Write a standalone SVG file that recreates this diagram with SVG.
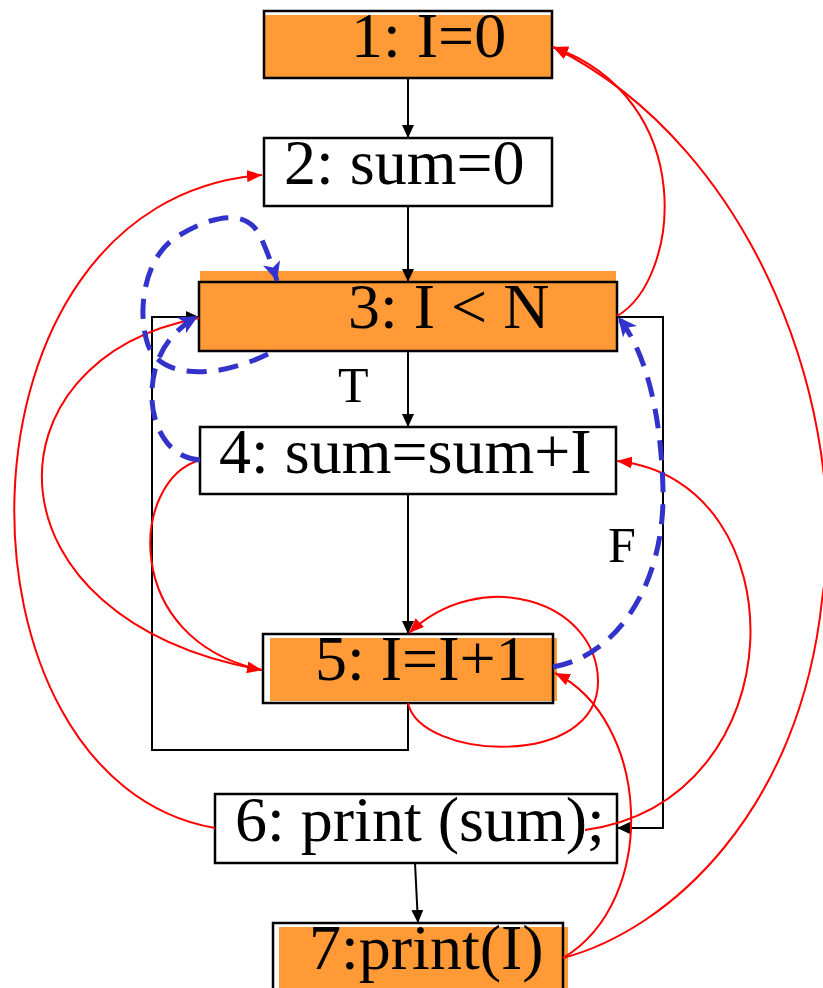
<svg xmlns="http://www.w3.org/2000/svg" width="823" height="988" viewBox="0 0 823 988">
<style>
.box{fill:none;stroke:#000;stroke-width:2.5}
.wbox{fill:#fff;stroke:#000;stroke-width:2.5}
.org{fill:#FF9A36}
.t{font-family:"Liberation Serif","Times New Roman",serif;font-size:64px;fill:#000}
.lbl{font-family:"Liberation Serif","Times New Roman",serif;font-size:50px;fill:#000}
.blk{fill:none;stroke:#000;stroke-width:2}
.red{fill:none;stroke:#FF0000;stroke-width:2}
.blue{fill:none;stroke:#3333CC;stroke-width:5;stroke-dasharray:20 12}
</style>
<defs>
<marker id="ab" markerUnits="userSpaceOnUse" markerWidth="14" markerHeight="12" refX="13" refY="6" orient="auto"><path d="M0,0 L13,6 L0,12 z" fill="#000"/></marker>
<marker id="ar" markerUnits="userSpaceOnUse" markerWidth="16" markerHeight="12" refX="15" refY="6" orient="auto"><path d="M0,0 L15,6 L0,12 z" fill="#FF0000"/></marker>
<marker id="au" markerUnits="userSpaceOnUse" markerWidth="20" markerHeight="18" refX="19" refY="9" orient="auto"><path d="M0,0 L19,9 L0,18 L5,9 z" fill="#3333CC"/></marker>
</defs>

<g id="n1">
<rect class="org" x="265" y="15" width="286" height="62"/>
<rect class="box" x="264" y="11" width="288" height="67"/>
<text class="t" x="351" y="57">1: I=0</text>
</g>
<g id="n2">
<rect class="wbox" x="264" y="138" width="288" height="68"/>
<text class="t" x="284" y="184">2: sum=0</text>
</g>
<g id="n3">
<rect class="org" x="200" y="271" width="416" height="80"/>
<rect class="box" x="199" y="282" width="418" height="69"/>
<text class="t" x="348" y="328">3: I &lt; N</text>
</g>
<g id="n4">
<rect class="wbox" x="200" y="427" width="416" height="67"/>
<text class="t" x="219" y="473">4: sum=sum+I</text>
</g>
<g id="n5">
<rect class="org" x="270" y="638" width="287" height="63"/>
<rect class="box" x="263" y="634" width="290" height="69"/>
<text class="t" x="315" y="680">5: I=I+1</text>
</g>
<g id="n6">
<rect class="wbox" x="215" y="794" width="402" height="69"/>
<text class="t" x="235" y="841">6: print (sum);</text>
</g>
<g id="n7">
<rect class="org" x="279" y="927" width="289" height="70"/>
<rect class="box" x="273" y="923" width="290" height="80"/>
<text class="t" x="309" y="969">7:print(I)</text>
</g>

<g id="connectors">
<path class="blk" d="M408,78 L408,138" marker-end="url(#ab)"/>
<path class="blk" d="M408,206 L408,282" marker-end="url(#ab)"/>
<path class="blk" d="M408,351 L408,427" marker-end="url(#ab)"/>
<path class="blk" d="M408,494 L408,634" marker-end="url(#ab)"/>
<path class="blk" d="M408,703 L408,750 L152,750 L152,317 L199,317" marker-end="url(#ab)"/>
<path class="blk" d="M617,317 L663,317 L663,828 L617,828" marker-end="url(#ab)"/>
<path class="blk" d="M415,863 L418,923" marker-end="url(#ab)"/>

<path class="red" d="M617,316 C680,280 700,100 553,47" marker-end="url(#ar)"/>
<path class="red" d="M563,958 C670,930 800,810 822,600 C850,420 760,150 553,47" marker-end="url(#ar)"/>
<path class="red" d="M215,828 C-60,780 -60,200 262,175" marker-end="url(#ar)"/>
<path class="red" d="M199,318 C-20,360 -20,620 262,670" marker-end="url(#ar)"/>
<path class="red" d="M200,460 C130,480 120,640 262,670"/>
<path class="red" d="M408,703 C420,760 600,770 598,680 C596,600 480,565 409,633" marker-end="url(#ar)"/>
<path class="red" d="M563,958 C660,900 650,720 555,673" marker-end="url(#ar)"/>
<path class="red" d="M585,830 C800,800 800,480 617,461" marker-end="url(#ar)"/>

<path class="blue" d="M268,354 C215,380 160,378 148,345 C136,310 145,255 178,236 C210,217 248,205 262,240 Q270,258 277,281" marker-end="url(#au)"/>
<path class="blue" d="M200,460 C165,458 150,420 152,390 C154,355 170,332 198,316" marker-end="url(#au)"/>
<path class="blue" d="M553,667 C620,655 665,580 663,490 C661,410 645,350 618,317" marker-end="url(#au)"/>

<text class="lbl" x="338" y="402">T</text>
<text class="lbl" x="608" y="562">F</text>
</g>
</svg>
